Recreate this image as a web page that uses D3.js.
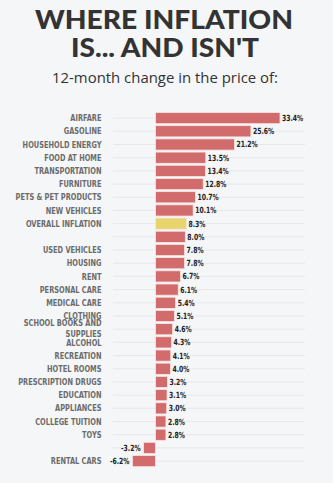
<!DOCTYPE html>
<html>
<head>
<meta charset="utf-8">
<style>
  html, body { margin: 0; padding: 0; background: #f5f6f8; }
  svg { display: block; }
</style>
</head>
<body>
<svg width="333" height="483"></svg>
<script src="https://d3js.org/d3.v7.min.js"></script>
<script>

var categories = [
  "AIRFARE", "GASOLINE", "HOUSEHOLD ENERGY", "FOOD AT HOME", "TRANSPORTATION",
  "FURNITURE", "PETS & PET PRODUCTS", "NEW VEHICLES", "OVERALL INFLATION", "",
  "USED VEHICLES", "HOUSING", "RENT", "PERSONAL CARE", "MEDICAL CARE",
  "CLOTHING", "SCHOOL BOOKS AND|SUPPLIES", "ALCOHOL", "RECREATION", "HOTEL ROOMS",
  "PRESCRIPTION DRUGS", "EDUCATION", "APPLIANCES", "COLLEGE TUITION", "TOYS",
  "", "RENTAL CARS"
];

var values = [
  33.4, 25.6, 21.2, 13.5, 13.4,
  12.8, 10.7, 10.1, 8.3, 8.0,
  7.8, 7.8, 6.7, 6.1, 5.4,
  5.1, 4.6, 4.3, 4.1, 4.0,
  3.2, 3.1, 3.0, 2.8, 2.8,
  -3.2, -6.2
];

var highlight = "OVERALL INFLATION";

var svg = d3.select("svg"),
    width = +svg.attr("width"),
    height = +svg.attr("height");

var data = categories.map(function(c, i) { return { label: c, value: values[i], i: i }; });

// title
svg.append("text")
    .attr("x", 164).attr("y", 29)
    .attr("text-anchor", "middle")
    .attr("textLength", 258).attr("lengthAdjust", "spacingAndGlyphs")
    .style("font", "900 27px Lato, 'Open Sans', sans-serif")
    .style("fill", "#333")
    .text("WHERE INFLATION");

svg.append("text")
    .attr("x", 165).attr("y", 57)
    .attr("text-anchor", "middle")
    .attr("textLength", 188).attr("lengthAdjust", "spacingAndGlyphs")
    .style("font", "900 27px Lato, 'Open Sans', sans-serif")
    .style("fill", "#333")
    .text("IS... AND ISN'T");

svg.append("text")
    .attr("x", 165).attr("y", 83)
    .attr("text-anchor", "middle")
    .attr("textLength", 226).attr("lengthAdjust", "spacingAndGlyphs")
    .style("font", "400 14px 'Open Sans', sans-serif")
    .style("fill", "#333")
    .text("12-month change in the price of:");

var x = d3.scaleLinear()
    .domain([0, 33.4])
    .range([155.5, 280]);

var y = d3.scaleBand()
    .domain(d3.range(data.length))
    .range([111.5, 467.7])
    .paddingInner(0.15)
    .paddingOuter(0.075);

var bw = y.bandwidth();

// row guide lines
svg.append("g").selectAll("line")
  .data(data)
  .enter().append("line")
    .attr("x1", 113).attr("x2", 305)
    .attr("y1", function(d) { return y(d.i) + bw / 2; })
    .attr("y2", function(d) { return y(d.i) + bw / 2; })
    .attr("stroke", "#e6e8ec")
    .attr("stroke-width", 1);

// bars
svg.append("g").selectAll("rect")
  .data(data)
  .enter().append("rect")
    .attr("x", function(d) { return x(Math.min(0, d.value)); })
    .attr("y", function(d) { return y(d.i); })
    .attr("width", function(d) { return Math.abs(x(d.value) - x(0)); })
    .attr("height", bw)
    .attr("fill", function(d) { return d.label === highlight ? "#e8d46c" : "#d26b6b"; })
    .attr("stroke", "#f8e6e6")
    .attr("stroke-width", 0.8);

// value labels (condensed by horizontal scaling)
svg.append("g").selectAll("text")
  .data(data)
  .enter().append("text")
    .attr("transform", function(d) {
      var tx = d.value < 0 ? x(d.value) - 3 : x(d.value) + 2;
      return "translate(" + tx + "," + (y(d.i) + bw / 2) + ") scale(0.8,1)";
    })
    .attr("dy", "0.35em")
    .attr("text-anchor", function(d) { return d.value < 0 ? "end" : "start"; })
    .style("font", "bold 8.5px 'DejaVu Sans Condensed', 'DejaVu Sans', sans-serif")
    .style("fill", "#222")
    .text(function(d) { return d.value.toFixed(1) + "%"; });

// category labels
var lab = svg.append("g").selectAll("text")
  .data(data.filter(function(d) { return d.label; }))
  .enter().append("text")
    .attr("transform", function(d) {
      return "translate(101.5," + (y(d.i) + bw / 2) + ") scale(0.82,1)";
    })
    .attr("text-anchor", "end")
    .style("font", "bold 9px 'DejaVu Sans Condensed', 'DejaVu Sans', sans-serif")
    .style("fill", "#6b6b6b");

lab.each(function(d) {
  var parts = d.label.split("|"),
      t = d3.select(this),
      y0 = parts.length > 1 ? -0.35 : 0.35;
  parts.forEach(function(p, k) {
    t.append("tspan")
      .attr("x", 0)
      .attr("dy", k === 0 ? y0 + "em" : "1.2em")
      .text(p);
  });
});

</script>
</body>
</html>
